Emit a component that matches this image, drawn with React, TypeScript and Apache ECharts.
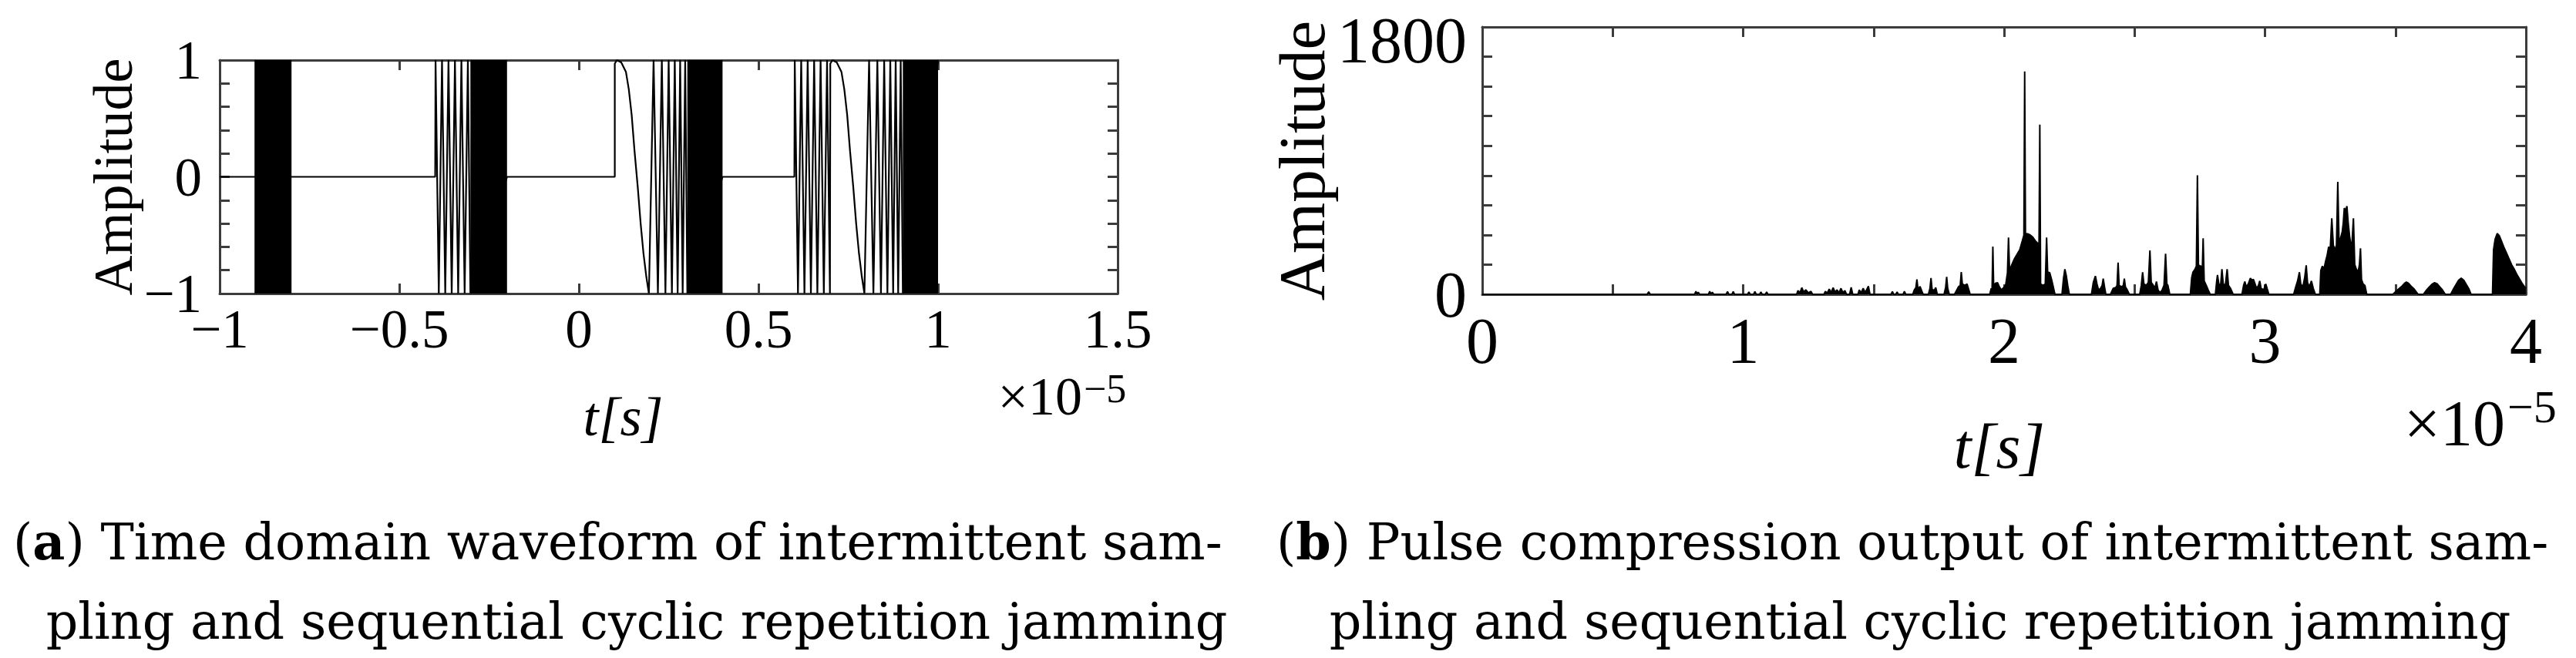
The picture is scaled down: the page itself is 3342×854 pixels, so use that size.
import React, { useEffect, useRef } from 'react';
import * as echarts from 'echarts';

const SERIF = '"Liberation Serif", "Times New Roman", Times, serif';
const CAPTION_FONT = '"DejaVu Serif", serif';
const FRAME = '#3c3c3c';

// ---------- (a) time domain waveform (t in units of 1e-5 s) ----------
const waveXMin = -1;
const waveXMax = 1.5;
const waveXStep = 0.5;
const waveXLabels = [-1, -0.5, 0, 0.5, 1, 1.5];
const waveYMin = -1;
const waveYMax = 1;
const waveYStep = 0.2;
const waveYLabels = [-1, 0, 1];

// waveform polyline [t, amplitude]
const waveform: [number, number][] = [
  [-1, 0], [-0.9, 0], [-0.8, 0], [-0.4, 0],
  [-0.399, 1], [-0.39, -1], [-0.381, 1], [-0.372, -1], [-0.363, 1], [-0.354, -1],
  [-0.345, 1], [-0.336, -1], [-0.327, 1], [-0.318, -1], [-0.309, 1], [-0.302, -1],
  [-0.2, 0], [0.1, 0], [0.1, 0.97],
  [0.106, 1], [0.118, 0.98], [0.131, 0.9], [0.139, 0.75], [0.147, 0.53], [0.155, 0.22],
  [0.164, -0.09], [0.172, -0.4], [0.18, -0.66], [0.188, -0.86], [0.195, -1],
  [0.208, 1], [0.22, -1], [0.231, 1], [0.241, -1], [0.25, 1], [0.259, -1], [0.267, 1],
  [0.275, -1], [0.282, 1], [0.289, -1], [0.296, 1], [0.302, -1],
  [0.4, 0], [0.6, 0],
  [0.601, 1], [0.61, -1], [0.619, 1], [0.628, -1], [0.637, 1], [0.646, -1], [0.655, 1],
  [0.664, -1], [0.673, 1], [0.682, -1], [0.691, 1], [0.699, -1],
  [0.7, 0.97], [0.706, 1], [0.718, 0.98], [0.731, 0.9], [0.739, 0.75], [0.747, 0.53], [0.755, 0.22],
  [0.764, -0.09], [0.772, -0.4], [0.78, -0.66], [0.788, -0.86], [0.795, -1],
  [0.808, 1], [0.82, -1], [0.831, 1], [0.841, -1], [0.85, 1], [0.859, -1], [0.867, 1],
  [0.875, -1], [0.882, 1], [0.889, -1], [0.896, 1], [0.902, -1],
  [1.0, 1],
];

// time spans where the oscillation is too dense to resolve (solid black)
const solidBands: [number, number][] = [
  [-0.903, -0.8],
  [-0.302, -0.2],
  [0.302, 0.4],
  [0.902, 1.0],
];

// ---------- (b) pulse compression output ----------
const pulseXMin = 0;
const pulseXMax = 4;
const pulseXStep = 0.5;
const pulseXLabels = [0, 1, 2, 3, 4];
const pulseYMin = 0;
const pulseYMax = 1800;
const pulseYStep = 200;
const pulseYLabels = [0, 1800];

const pulseOutput: [number, number][] = [
  [0, 0],
  [0.632, 0], [0.638, 17], [0.644, 0],
  [0.814, 0], [0.819, 20], [0.824, 0], [0.828, 14], [0.833, 0],
  [0.867, 0], [0.872, 20], [0.877, 0], [0.882, 14], [0.887, 0],
  [0.935, 0], [0.94, 18], [0.945, 0], [0.957, 0], [0.962, 18], [0.967, 0],
  [1.017, 0], [1.022, 15], [1.027, 0], [1.04, 0], [1.045, 18], [1.05, 0], [1.063, 0], [1.068, 15], [1.073, 0], [1.085, 0], [1.09, 15], [1.095, 0],
  [1.205, 0], [1.21, 25], [1.218, 12], [1.225, 45], [1.232, 15], [1.24, 30], [1.25, 10], [1.26, 20], [1.266, 0],
  [1.31, 0], [1.315, 20], [1.322, 8], [1.33, 35], [1.337, 12], [1.345, 45], [1.352, 15], [1.36, 30], [1.367, 10], [1.375, 40], [1.382, 12], [1.39, 25], [1.396, 0],
  [1.408, 0], [1.414, 47], [1.42, 0],
  [1.44, 0], [1.445, 30], [1.452, 10], [1.46, 40], [1.468, 12], [1.48, 55], [1.486, 0],
  [1.567, 0], [1.572, 18], [1.577, 0], [1.585, 0], [1.59, 15], [1.595, 0], [1.613, 0], [1.618, 20], [1.623, 0],
  [1.65, 0], [1.656, 30], [1.662, 45], [1.666, 100], [1.67, 35], [1.678, 52], [1.685, 20], [1.69, 0],
  [1.71, 0], [1.716, 40], [1.72, 110], [1.724, 35], [1.732, 25], [1.738, 45], [1.744, 0],
  [1.77, 0], [1.776, 45], [1.78, 118], [1.784, 40], [1.79, 0],
  [1.81, 0], [1.816, 20], [1.825, 50], [1.832, 60], [1.836, 150], [1.84, 70], [1.85, 60], [1.858, 70], [1.865, 30], [1.87, 0],
  [1.945, 0], [1.951, 40], [1.954, 30], [1.957, 321], [1.96, 60], [1.968, 75], [1.975, 78], [1.982, 50], [1.99, 30], [1.998, 45], [2.006, 60],
  [2.013, 145], [2.017, 382], [2.021, 160], [2.03, 200], [2.04, 240], [2.05, 270], [2.06, 300], [2.07, 360], [2.076, 398],
  [2.079, 1500], [2.082, 405], [2.09, 408], [2.1, 400], [2.11, 385], [2.12, 360], [2.128, 345], [2.134, 340],
  [2.137, 1143], [2.14, 70], [2.15, 60], [2.158, 70], [2.163, 382], [2.167, 150], [2.175, 145], [2.182, 100], [2.188, 55], [2.195, 0],
  [2.222, 0], [2.228, 110], [2.233, 169], [2.238, 130], [2.244, 60], [2.25, 0],
  [2.335, 0], [2.342, 80], [2.35, 123], [2.356, 70], [2.362, 30], [2.37, 40], [2.376, 60], [2.38, 106], [2.385, 50], [2.39, 0],
  [2.408, 0], [2.418, 40], [2.428, 45], [2.433, 60], [2.437, 214], [2.441, 60], [2.45, 50], [2.457, 60], [2.461, 106], [2.465, 50], [2.472, 30], [2.48, 0],
  [2.52, 0], [2.526, 60], [2.531, 149], [2.536, 70], [2.545, 60], [2.553, 80], [2.559, 296], [2.564, 80], [2.572, 60], [2.578, 40], [2.584, 86],
  [2.59, 30], [2.598, 10], [2.606, 30], [2.613, 60], [2.619, 273], [2.624, 70], [2.628, 60], [2.635, 0],
  [2.714, 0], [2.719, 110], [2.724, 149], [2.732, 170], [2.737, 190], [2.741, 802], [2.745, 200], [2.75, 190], [2.755, 190], [2.759, 110],
  [2.763, 377], [2.767, 90], [2.775, 60], [2.782, 30], [2.79, 0],
  [2.81, 0], [2.815, 90], [2.818, 130], [2.823, 70], [2.83, 60], [2.835, 169], [2.84, 70], [2.848, 60], [2.855, 169], [2.86, 60], [2.868, 40], [2.878, 0],
  [2.912, 0], [2.918, 60], [2.923, 86], [2.928, 50], [2.936, 70], [2.944, 109], [2.95, 95], [2.956, 100], [2.962, 70], [2.968, 40],
  [2.975, 60], [2.98, 90], [2.985, 40], [2.995, 30], [3.003, 70], [3.008, 40], [3.015, 0],
  [3.11, 0], [3.118, 50], [3.125, 90], [3.132, 149], [3.137, 70], [3.145, 50], [3.152, 110], [3.158, 195], [3.163, 80], [3.17, 50], [3.178, 90], [3.185, 40], [3.193, 0],
  [3.21, 0], [3.214, 160], [3.22, 190], [3.226, 170], [3.232, 220], [3.238, 260], [3.244, 320], [3.25, 300], [3.256, 512], [3.262, 330],
  [3.268, 300], [3.274, 330], [3.279, 757], [3.284, 340], [3.29, 380], [3.296, 420], [3.3, 480], [3.304, 581], [3.309, 560], [3.314, 594],
  [3.319, 480], [3.325, 380], [3.332, 300], [3.339, 512], [3.344, 200], [3.35, 170], [3.357, 150], [3.362, 200], [3.366, 310], [3.37, 100],
  [3.376, 70], [3.383, 60], [3.39, 0],
  [3.49, 0], [3.505, 25], [3.515, 40], [3.525, 55], [3.535, 75], [3.542, 83], [3.55, 75], [3.56, 55], [3.572, 35], [3.587, 0],
  [3.607, 0], [3.62, 30], [3.63, 50], [3.64, 68], [3.65, 78], [3.66, 70], [3.67, 50], [3.68, 30], [3.691, 0],
  [3.712, 0], [3.722, 35], [3.732, 65], [3.742, 95], [3.752, 109], [3.762, 95], [3.772, 65], [3.782, 35], [3.79, 0],
  [3.872, 0], [3.876, 300], [3.882, 370], [3.89, 410], [3.898, 395], [3.906, 360], [3.915, 320], [3.925, 280], [3.935, 240],
  [3.945, 200], [3.955, 170], [3.965, 135], [3.975, 105], [3.985, 75], [3.995, 50], [4.0, 40],
];

// ---------- captions ----------
const captionA1 = '(a) Time domain waveform of intermittent sam-';
const captionA2 = 'pling and sequential cyclic repetition jamming';
const captionB1 = '(b) Pulse compression output of intermittent sam-';
const captionB2 = 'pling and sequential cyclic repetition jamming';

const fmtNum = (v: number) => {
  const r = Math.round(v * 10) / 10;
  return r < 0 ? '\u2212' + String(Math.abs(r)) : String(r);
};
const labelOnly = (labels: number[]) => (v: number) =>
  labels.some((l) => Math.abs(l - v) < 1e-6) ? fmtNum(v) : '';

const axisLine = { show: true, onZero: false, lineStyle: { color: FRAME, width: 3 } };
const axisTick = { show: true, inside: true, length: 13, lineStyle: { color: FRAME, width: 3 } };

function richCaption(line: string, fontSize: number) {
  const m = line.match(/^\((.)\)(.*)$/);
  if (!m) return { text: line, rich: undefined };
  return {
    text: `{n|(}{b|${m[1]}}{n|)${m[2]}}`,
    rich: {
      n: { fontFamily: CAPTION_FONT, fontSize, fill: '#000', color: '#000' },
      b: { fontFamily: CAPTION_FONT, fontSize, fontWeight: 'bold', fill: '#000', color: '#000' },
    },
  };
}

function buildOption() {
  const capFs = 65;
  const capA1 = richCaption(captionA1, capFs);
  const capB1 = richCaption(captionB1, capFs);
  const captionText = (x: number, y: number, align: string, c: any) => ({
    type: 'text',
    x,
    y,
    silent: true,
    style: {
      text: c.text,
      rich: c.rich,
      fontFamily: CAPTION_FONT,
      fontSize: capFs,
      fill: '#000',
      align,
      verticalAlign: 'middle',
    },
  });
  const plainText = (x: number, y: number, align: string, text: string, fontSize: number) => ({
    type: 'text',
    x,
    y,
    silent: true,
    style: { text, fontFamily: SERIF, fontSize, fill: '#000', align, verticalAlign: 'middle' },
  });

  return {
    animation: false,
    backgroundColor: '#ffffff',
    textStyle: { fontFamily: SERIF, color: '#000' },
    grid: [
      { left: 285, top: 78, width: 1165, height: 303 },
      { left: 1923, top: 35, width: 1354, height: 347 },
    ],
    xAxis: [
      {
        type: 'value', gridIndex: 0, position: 'bottom',
        min: waveXMin, max: waveXMax, interval: waveXStep,
        axisLine, axisTick, splitLine: { show: false },
        axisLabel: { margin: 10, color: '#000', fontFamily: SERIF, fontSize: 71, formatter: labelOnly(waveXLabels) },
        name: 't[s]', nameLocation: 'middle', nameGap: 124,
        nameTextStyle: { color: '#000', fontFamily: SERIF, fontStyle: 'italic', fontSize: 72, padding: [0, 118, 0, 0] },
      },
      {
        type: 'value', gridIndex: 0, position: 'top',
        min: waveXMin, max: waveXMax, interval: waveXStep,
        axisLine, axisTick, splitLine: { show: false }, axisLabel: { show: false },
      },
      {
        type: 'value', gridIndex: 1, position: 'bottom',
        min: pulseXMin, max: pulseXMax, interval: pulseXStep,
        axisLine, axisTick, splitLine: { show: false },
        axisLabel: { margin: 18, color: '#000', fontFamily: SERIF, fontSize: 84, formatter: labelOnly(pulseXLabels) },
        name: 't[s]', nameLocation: 'middle', nameGap: 156,
        nameTextStyle: { color: '#000', fontFamily: SERIF, fontStyle: 'italic', fontSize: 82, padding: [0, 12, 0, 0] },
      },
      {
        type: 'value', gridIndex: 1, position: 'top',
        min: pulseXMin, max: pulseXMax, interval: pulseXStep,
        axisLine, axisTick, splitLine: { show: false }, axisLabel: { show: false },
      },
    ],
    yAxis: [
      {
        type: 'value', gridIndex: 0, position: 'left',
        min: waveYMin, max: waveYMax, interval: waveYStep,
        axisLine, axisTick, splitLine: { show: false },
        axisLabel: { margin: 23, color: '#000', fontFamily: SERIF, fontSize: 71, formatter: labelOnly(waveYLabels) },
        name: 'Amplitude', nameLocation: 'middle', nameGap: 99,
        nameTextStyle: { color: '#000', fontFamily: SERIF, fontSize: 72 },
      },
      {
        type: 'value', gridIndex: 0, position: 'right',
        min: waveYMin, max: waveYMax, interval: waveYStep,
        axisLine, axisTick, splitLine: { show: false }, axisLabel: { show: false },
      },
      {
        type: 'value', gridIndex: 1, position: 'left',
        min: pulseYMin, max: pulseYMax, interval: pulseYStep,
        axisLine, axisTick, splitLine: { show: false },
        axisLabel: {
          margin: 20, color: '#000', fontFamily: SERIF, fontSize: 84,
          formatter: (v: number) =>
            v === pulseYMax ? `{top|${v}}` : labelOnly(pulseYLabels)(v),
          rich: { top: { fontFamily: SERIF, fontSize: 84, color: '#000', padding: [35, 0, 0, 0] } },
        },
        name: 'Amplitude', nameLocation: 'middle', nameGap: 192,
        nameTextStyle: { color: '#000', fontFamily: SERIF, fontSize: 85 },
      },
      {
        type: 'value', gridIndex: 1, position: 'right',
        min: pulseYMin, max: pulseYMax, interval: pulseYStep,
        axisLine, axisTick, splitLine: { show: false }, axisLabel: { show: false },
      },
    ],
    series: [
      {
        type: 'line', xAxisIndex: 0, yAxisIndex: 0,
        data: waveform, symbol: 'none', showSymbol: false,
        lineStyle: { color: '#000', width: 2.2 },
        markArea: {
          silent: true,
          itemStyle: { color: '#000', opacity: 1 },
          label: { show: false },
          data: solidBands.map(([a, b]) => [
            { xAxis: a, yAxis: waveYMin },
            { xAxis: b, yAxis: waveYMax },
          ]),
        },
      },
      {
        type: 'line', xAxisIndex: 2, yAxisIndex: 2,
        data: pulseOutput, symbol: 'none', showSymbol: false,
        lineStyle: { color: '#000', width: 2 },
        areaStyle: { color: '#000', opacity: 1 },
      },
    ],
    graphic: [
      plainText(1404, 514, 'right', '\u00d710', 70),
      plainText(1406, 504, 'left', '\u22125', 52),
      plainText(3250, 549, 'right', '\u00d710', 84),
      plainText(3253, 528, 'left', '\u22125', 60),
      captionText(17, 703, 'left', capA1),
      captionText(826, 806, 'center', { text: captionA2 }),
      captionText(1656, 703, 'left', capB1),
      captionText(2491, 806, 'center', { text: captionB2 }),
    ],
  };
}

export default function App() {
  const ref = useRef<HTMLDivElement>(null);
  useEffect(() => {
    if (!ref.current) return;
    const chart = echarts.init(ref.current, null, { renderer: 'svg', width: 3342, height: 854 });
    chart.setOption(buildOption() as any);
    return () => chart.dispose();
  }, []);
  return (
    <div
      ref={ref}
      style={{ position: 'fixed', left: 0, top: 0, width: 3342, height: 854, background: '#fff' }}
    />
  );
}
